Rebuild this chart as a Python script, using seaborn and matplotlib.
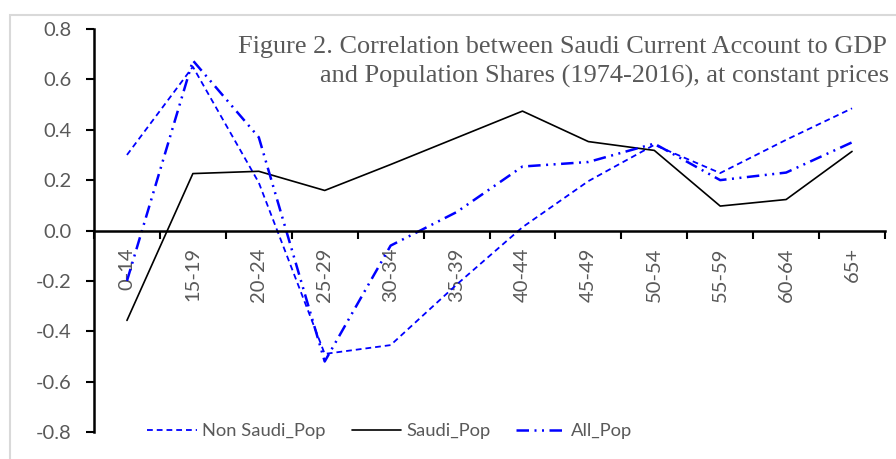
import numpy as np
import pandas as pd
import matplotlib
matplotlib.use("Agg")
import matplotlib.pyplot as plt
from matplotlib.patches import Rectangle
import seaborn as sns

categories = ["0-14", "15-19", "20-24", "25-29", "30-34", "35-39",
              "40-44", "45-49", "50-54", "55-59", "60-64", "65+"]
non_saudi = [0.30, 0.65, 0.19, -0.49, -0.455, -0.215, 0.013, 0.196, 0.34, 0.228, 0.36, 0.485]
saudi = [-0.357, 0.226, 0.235, 0.159, 0.262, 0.368, 0.474, 0.353, 0.318, 0.097, 0.123, 0.314]
all_pop = [-0.20, 0.675, 0.37, -0.52, -0.06, 0.073, 0.254, 0.272, 0.345, 0.20, 0.23, 0.35]
yticks = [-0.8, -0.6, -0.4, -0.2, 0.0, 0.2, 0.4, 0.6, 0.8]
title_line1 = "Figure 2. Correlation between Saudi Current Account to GDP"
title_line2 = "and Population Shares (1974-2016), at constant prices"

sns.set_style("white")
plt.rcParams['font.family'] = ['Lato', 'DejaVu Sans']

W, H = 896, 459
fig = plt.figure(figsize=(W / 100, H / 100), dpi=100)
ax = fig.add_axes([94 / W, (H - 432) / H, (885 - 94) / W, (432 - 29) / H])

x = np.arange(len(categories))
df = pd.DataFrame({"x": x, "Non Saudi_Pop": non_saudi, "Saudi_Pop": saudi, "All_Pop": all_pop})

sns.lineplot(data=df, x="x", y="Non Saudi_Pop", ax=ax, color="#0000FF", lw=1.3,
             label="Non Saudi_Pop", linestyle=(0, (3.2, 2.2)))
sns.lineplot(data=df, x="x", y="Saudi_Pop", ax=ax, color="black", lw=1.2,
             label="Saudi_Pop")
sns.lineplot(data=df, x="x", y="All_Pop", ax=ax, color="#0000FF", lw=1.8,
             label="All_Pop", linestyle=(0, (5, 2.2, 0.8, 2.2, 0.8, 2.2)))

ax.set_xlim(-0.5, len(categories) - 0.5)
ax.set_ylim(-0.8, 0.8)
ax.set_xlabel("")
ax.set_ylabel("")

for s in ["top", "right"]:
    ax.spines[s].set_visible(False)
ax.spines["left"].set_linewidth(1.8)
ax.spines["bottom"].set_linewidth(1.8)
ax.spines["bottom"].set_position(("data", 0))
ax.spines["left"].set_color("black")
ax.spines["bottom"].set_color("black")

ax.set_yticks(yticks)
ax.set_yticklabels([f"{v:.1f}" for v in yticks])
ax.tick_params(axis="y", direction="out", length=6, width=1.5, color="black",
               pad=10, labelsize=14.5, labelcolor="#595959", left=True)

ax.set_xticks(x)
ax.set_xticklabels(categories, rotation=90, va="top", ha="center")
ax.tick_params(axis="x", which="major", length=0, pad=12, labelsize=14.5,
               labelcolor="#595959", bottom=True)
ax.set_xticks(np.arange(-0.5, len(categories), 1.0), minor=True)
ax.tick_params(axis="x", which="minor", direction="out", length=6, width=1.5,
               color="black", bottom=True)

ax.grid(False)

leg = ax.legend(loc="center", bbox_to_anchor=(390 / W, (H - 431) / H), bbox_transform=fig.transFigure,
                ncol=3, frameon=False, fontsize=13.2, handlelength=2.7, handletextpad=0.3,
                columnspacing=1.4, borderaxespad=0, borderpad=0)
for t in leg.get_texts():
    t.set_color("#595959")

fig.text(238 / W, (H - 53) / H, title_line1, family=["Liberation Serif"], fontsize=18.9,
         color="#595959", ha="left", va="baseline")
fig.text(320 / W, (H - 83) / H, title_line2, family=["Liberation Serif"], fontsize=18.9,
         color="#595959", ha="left", va="baseline")

fig.patches.append(Rectangle((10 / W, -0.1), 1.2, (H - 15) / H + 0.1, transform=fig.transFigure,
                             fill=False, edgecolor="#d9d9d9", lw=1.5, zorder=-1))

fig.savefig("out.png", dpi=100)
